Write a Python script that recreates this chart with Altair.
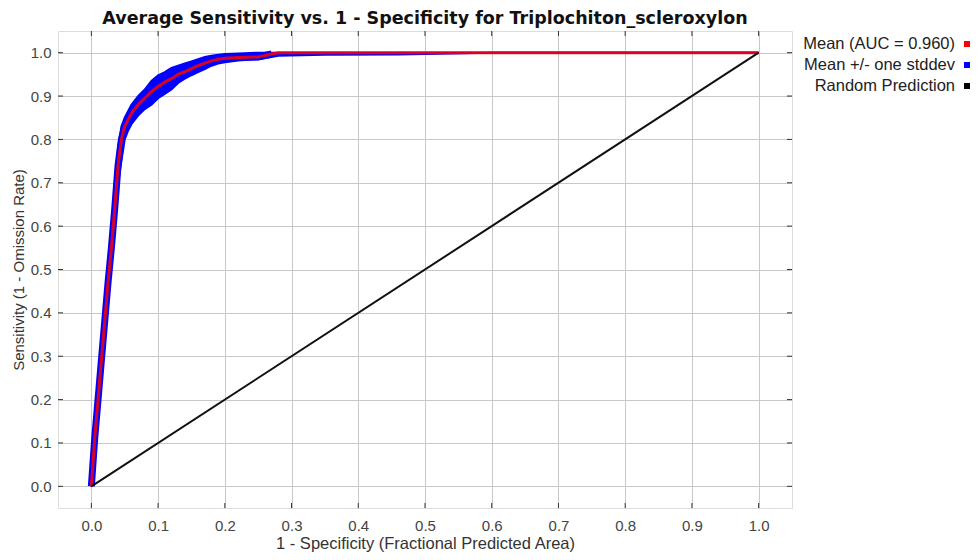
import altair as alt
import pandas as pd

# ---- data ----
fpr = [0, 0.005, 0.01, 0.015, 0.02, 0.025, 0.03, 0.035, 0.04, 0.045, 0.05, 0.055,
       0.06, 0.07, 0.08, 0.09, 0.1, 0.11, 0.12, 0.13, 0.14, 0.15, 0.16, 0.17, 0.18,
       0.19, 0.2, 0.22, 0.25, 0.27, 0.28, 0.35, 0.46, 0.6, 1.0]
mean_tpr = [0, 0.11, 0.2, 0.29, 0.38, 0.47, 0.55, 0.64, 0.74, 0.80, 0.83, 0.845,
            0.86, 0.88, 0.895, 0.91, 0.922, 0.932, 0.94, 0.95, 0.956, 0.963, 0.97, 0.976, 0.981,
            0.985, 0.987, 0.989, 0.99, 0.997, 1.0, 1.0, 1.0, 1.0, 1.0]
upper_tpr = [0, 0.15, 0.24, 0.33, 0.42, 0.51, 0.59, 0.68, 0.78, 0.83, 0.85, 0.865,
             0.88, 0.9, 0.915, 0.935, 0.948, 0.955, 0.965, 0.97, 0.975, 0.98, 0.985, 0.99, 0.993,
             0.995, 0.997, 0.998, 1.0, 1.0, 1.0, 1.0, 1.0, 1.0, 1.0]
lower_tpr = [0, 0.07, 0.16, 0.25, 0.34, 0.43, 0.51, 0.60, 0.70, 0.75, 0.80, 0.82,
             0.835, 0.855, 0.87, 0.88, 0.895, 0.905, 0.915, 0.93, 0.94, 0.948, 0.955, 0.962, 0.97,
             0.975, 0.978, 0.982, 0.985, 0.99, 0.993, 0.995, 0.996, 1.0, 1.0]
random_x = [0.0, 1.0]
random_y = [0.0, 1.0]
tick_vals = [0.0, 0.1, 0.2, 0.3, 0.4, 0.5, 0.6, 0.7, 0.8, 0.9, 1.0]
legend_labels = ["Mean (AUC = 0.960)", "Mean +/- one stddev", "Random Prediction"]
legend_colors = ["#ff0000", "#0000ff", "#000000"]

TITLE = "Average Sensitivity vs. 1 - Specificity for Triplochiton_scleroxylon"
W, H = 734, 477

curve = pd.DataFrame({"x": fpr, "mean": mean_tpr, "upper": upper_tpr, "lower": lower_tpr})
rand = pd.DataFrame({"x": random_x, "y": random_y})
ticks = pd.DataFrame({"v": tick_vals})
leg = pd.DataFrame({"label": legend_labels, "color": legend_colors,
                    "row": [0, 1, 2]})

xs = alt.Scale(domain=[-0.05, 1.05], nice=False, zero=False)
ys = alt.Scale(domain=[-0.05, 1.05], nice=False, zero=False)

FONT = "Liberation Sans"
xaxis = alt.Axis(values=tick_vals, format=".1f", grid=True, gridColor="#c8c8c8",
                 ticks=False, domain=False, labelPadding=10, labelFontSize=15,
                 labelFont=FONT, labelColor="#444444",
                 title="1 - Specificity (Fractional Predicted Area)",
                 titleFont=FONT, titleFontSize=16.5, titleFontWeight="normal",
                 titleColor="#333333", titlePadding=2)
yaxis = alt.Axis(values=tick_vals, format=".1f", grid=True, gridColor="#c8c8c8",
                 ticks=False, domain=False, labelPadding=7, labelFontSize=15,
                 labelFont=FONT, labelColor="#444444",
                 title="Sensitivity (1 - Omission Rate)",
                 titleFont=FONT, titleFontSize=15, titleFontWeight="normal",
                 titleColor="#333333", titlePadding=4)

base = alt.Chart(curve)

band = base.mark_area(color="#0000ff", opacity=1).encode(
    x=alt.X("x:Q", scale=xs, axis=xaxis),
    y=alt.Y("upper:Q", scale=ys, axis=yaxis),
    y2="lower:Q",
)
band_up = base.mark_line(color="#0000ff", strokeWidth=2).encode(
    x=alt.X("x:Q", scale=xs), y=alt.Y("upper:Q", scale=ys))
band_lo = base.mark_line(color="#0000ff", strokeWidth=2).encode(
    x=alt.X("x:Q", scale=xs), y=alt.Y("lower:Q", scale=ys))
band_mid = base.transform_filter("datum.x <= 0.27").mark_line(
    color="#0000ff", strokeWidth=7).encode(
    x=alt.X("x:Q", scale=xs), y=alt.Y("mean:Q", scale=ys))
mean_line = base.mark_line(color="#ff0000", strokeWidth=3, opacity=0.85).encode(
    x=alt.X("x:Q", scale=xs), y=alt.Y("mean:Q", scale=ys))

rand_line = alt.Chart(rand).mark_line(color="#111111", strokeWidth=2).encode(
    x=alt.X("x:Q", scale=xs), y=alt.Y("y:Q", scale=ys))

tick_col = "#333333"
tb = alt.Chart(ticks).mark_rule(color=tick_col, strokeWidth=1).encode(
    x=alt.X("v:Q", scale=xs), y=alt.value(H - 5), y2=alt.value(H))
tt = alt.Chart(ticks).mark_rule(color=tick_col, strokeWidth=1).encode(
    x=alt.X("v:Q", scale=xs), y=alt.value(0), y2=alt.value(5))
tl = alt.Chart(ticks).mark_rule(color=tick_col, strokeWidth=1).encode(
    y=alt.Y("v:Q", scale=ys), x=alt.value(0), x2=alt.value(5))
tr = alt.Chart(ticks).mark_rule(color=tick_col, strokeWidth=1).encode(
    y=alt.Y("v:Q", scale=ys), x=alt.value(W - 5), x2=alt.value(W))

leg_base = alt.Chart(leg).transform_calculate(py="13 + datum.row * 21")
leg_text = leg_base.mark_text(align="right", baseline="middle", fontSize=16.5,
                              font=FONT, color="#222222").encode(
    x=alt.value(897),
    y=alt.Y("py:Q", scale=None, axis=None),
    text="label:N")
leg_sq = leg_base.mark_square(size=36, opacity=1).encode(
    x=alt.value(909),
    y=alt.Y("py:Q", scale=None, axis=None),
    color=alt.Color("color:N", scale=None))

chart = alt.layer(band, band_up, band_lo, band_mid, mean_line, rand_line,
                  tb, tt, tl, tr, leg_text, leg_sq).properties(
    width=W, height=H,
    title=alt.TitleParams(TITLE, font="DejaVu Sans", fontSize=17.5, fontWeight="bold",
                          color="#111111", anchor="middle", offset=3),
    autosize=alt.AutoSizeParams(type="none"),
    padding={"left": 50, "top": 23, "right": 180, "bottom": 44},
).configure_view(stroke="#333333", strokeWidth=1).configure(background="white")

chart.save("out.html", embed_options={"renderer": "svg", "actions": False})
